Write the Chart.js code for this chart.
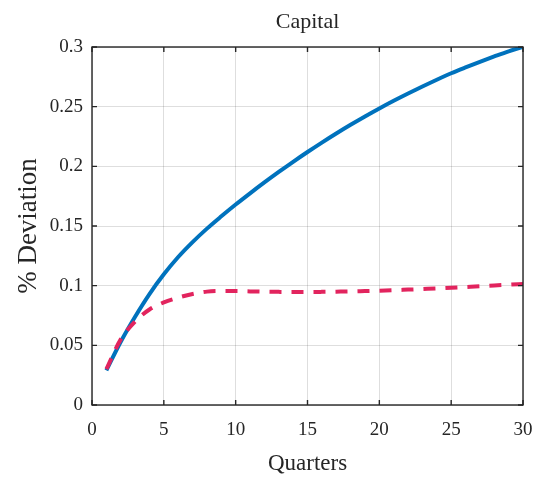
<!DOCTYPE html>
<html>
<head>
<meta charset="utf-8">
<script src="https://cdn.jsdelivr.net/npm/chart.js@4/dist/chart.umd.min.js"></script>
<style>
  html, body { margin: 0; padding: 0; background: #fff; }
</style>
</head>
<body>
<canvas id="capChart" width="534" height="478"></canvas>
<script>
// quarters after the shock
const quarters = [1, 2, 3, 4, 5, 6, 7, 8, 9, 10, 11, 12, 13, 14, 15,
                  16, 17, 18, 19, 20, 21, 22, 23, 24, 25, 26, 27, 28, 29, 30];

// solid blue line
const capitalBase = [0.029, 0.053, 0.074, 0.093, 0.1095, 0.124, 0.1365, 0.1478, 0.1581, 0.168,
                     0.1774, 0.1865, 0.1953, 0.2038, 0.212, 0.2199, 0.2275, 0.2348, 0.2418, 0.2485,
                     0.2549, 0.261, 0.2669, 0.2726, 0.278, 0.2829, 0.2876, 0.2921, 0.2964, 0.300];

// dashed red line
const capitalAlt = [0.030, 0.055, 0.070, 0.080, 0.086, 0.090, 0.093, 0.095, 0.0955, 0.0955,
                    0.0952, 0.095, 0.0948, 0.0947, 0.0947, 0.0948, 0.095, 0.0952, 0.0955, 0.0958,
                    0.0962, 0.0967, 0.0972, 0.0977, 0.0983, 0.0989, 0.0995, 0.1002, 0.1008, 0.1015];

const xTickLabels = ['0', '5', '10', '15', '20', '25', '30'];
const yTickLabels = ['0', '0.05', '0.1', '0.15', '0.2', '0.25', '0.3'];

const serif = '"Liberation Serif", "Times New Roman", serif';
const ink = '#262626';

function toPoints(values) {
    return quarters.map((q, i) => ({ x: q, y: values[i] }));
}

// box around the plot plus small inward ticks, like the original figure
const frameBox = {
    id: 'frameBox',
    afterDatasetsDraw(chart) {
        const { ctx, chartArea: a, scales } = chart;
        ctx.save();
        ctx.strokeStyle = ink;
        ctx.lineWidth = 1.4;
        ctx.strokeRect(a.left, a.top, a.right - a.left, a.bottom - a.top);
        const len = 5;
        ctx.beginPath();
        scales.x.ticks.forEach(t => {
            const px = scales.x.getPixelForValue(t.value);
            ctx.moveTo(px, a.bottom); ctx.lineTo(px, a.bottom - len);
            ctx.moveTo(px, a.top); ctx.lineTo(px, a.top + len);
        });
        scales.y.ticks.forEach(t => {
            const py = scales.y.getPixelForValue(t.value);
            ctx.moveTo(a.left, py); ctx.lineTo(a.left + len, py);
            ctx.moveTo(a.right, py); ctx.lineTo(a.right - len, py);
        });
        ctx.stroke();
        ctx.restore();
    }
};

new Chart(document.getElementById('capChart'), {
    type: 'line',
    data: {
        datasets: [
            {
                label: 'Alternative',
                data: toPoints(capitalAlt),
                borderColor: '#E2245E',
                borderWidth: 4,
                borderDash: [12, 10],
                pointRadius: 0,
                cubicInterpolationMode: 'monotone',
                fill: false
            },
            {
                label: 'Baseline',
                data: toPoints(capitalBase),
                borderColor: '#0072BD',
                borderWidth: 4,
                pointRadius: 0,
                cubicInterpolationMode: 'monotone',
                fill: false
            }
        ]
    },
    options: {
        responsive: false,
        animation: false,
        devicePixelRatio: 1,
        layout: { padding: { top: 0, left: 0, right: 11, bottom: 0 } },
        plugins: {
            legend: { display: false },
            tooltip: { enabled: false },
            title: {
                display: true,
                text: 'Capital',
                fullSize: false,
                color: ink,
                font: { family: serif, size: 22, weight: 'normal', lineHeight: 1.2 },
                padding: { top: 9, bottom: 11.6 }
            }
        },
        scales: {
            x: {
                type: 'linear',
                min: 0,
                max: 30,
                afterFit: scale => {
                    scale.height = 73;
                    scale.paddingLeft = 0;
                    scale.paddingRight = 0;
                },
                border: { display: false },
                grid: { color: 'rgba(0,0,0,0.13)', drawTicks: false },
                ticks: {
                    stepSize: 5,
                    padding: 14,
                    color: ink,
                    font: { family: serif, size: 19 },
                    callback: (value, index) => xTickLabels[index]
                },
                title: {
                    display: true,
                    text: 'Quarters',
                    color: ink,
                    font: { family: serif, size: 23, lineHeight: 1.2 },
                    padding: { top: 0, bottom: 0 }
                }
            },
            y: {
                min: 0,
                max: 0.3,
                afterFit: scale => {
                    scale.width = 92;
                    scale.paddingTop = 0;
                    scale.paddingBottom = 0;
                },
                border: { display: false },
                grid: { color: 'rgba(0,0,0,0.13)', drawTicks: false },
                ticks: {
                    stepSize: 0.05,
                    padding: 9,
                    color: ink,
                    font: { family: serif, size: 19 },
                    callback: (value, index) => yTickLabels[index]
                },
                title: {
                    display: true,
                    text: '% Deviation',
                    color: ink,
                    font: { family: serif, size: 27, lineHeight: 1.2 },
                    padding: { top: 13, bottom: 0 }
                }
            }
        }
    },
    plugins: [frameBox]
});
</script>
</body>
</html>
